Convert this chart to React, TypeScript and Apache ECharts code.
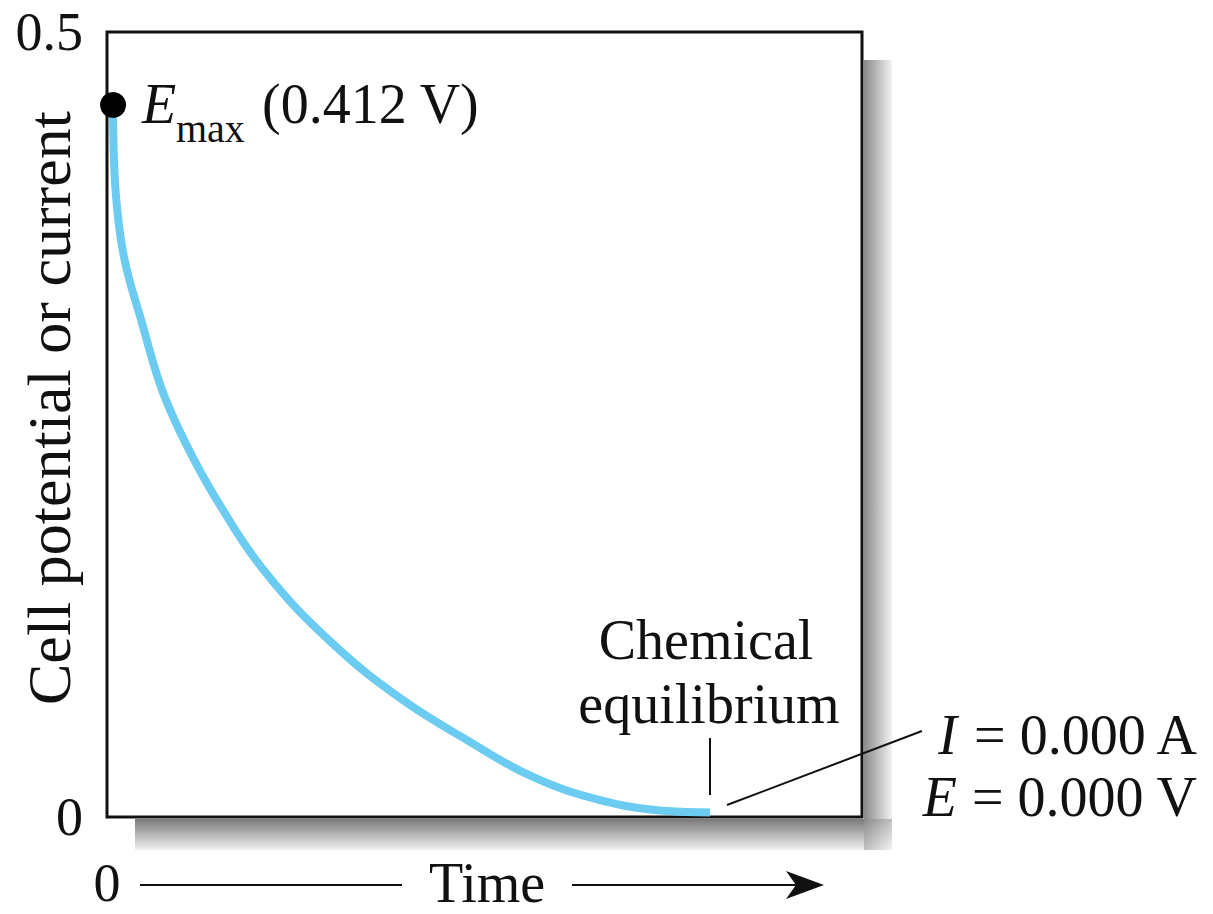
import React, { useEffect, useRef } from "react";
import * as echarts from "echarts";

// Curve: time (arbitrary units, 0–100 across the plot) vs. cell potential (V)
const timeValues = [0.8, 1.13, 2.25, 4.64, 7.29, 10.2, 14.31, 21.06, 29.8, 38.81, 47.68, 56.42, 65.3, 74.17, 79.87];
const potentialValues = [0.4535, 0.3994, 0.3567, 0.3146, 0.272, 0.2401, 0.2038, 0.1554, 0.1108, 0.0758, 0.049, 0.0255, 0.0108, 0.0038, 0.0029];
const emaxPoint = [0.8, 0.4535];
const yTickLabels = ["0", "0.5"];
const yAxisTitle = "Cell potential or current";
const xAxisTitle = "Time";
const xZeroLabel = "0";
const emaxText = ["E", "max", "(0.412 V)"];
const equilibriumText = ["Chemical", "equilibrium"];
const finalValues = ["{i|I} = 0.000 A", "{i|E} = 0.000 V"];

export default function App() {
  const ref = useRef<HTMLDivElement>(null);
  useEffect(() => {
    const chart = echarts.init(ref.current!, null, { renderer: "svg" });
    const serif = "'Liberation Serif', 'Times New Roman', serif";
    const ink = "#111";
    const txt = (x: number, y: number, text: string, size: number, extra: any = {}) => ({
      type: "text",
      z: 20,
      x,
      y,
      style: {
        text,
        fontFamily: serif,
        fontSize: size,
        fill: ink,
        align: "left",
        verticalAlign: "middle",
        ...extra,
      },
    });
    chart.setOption({
      animation: false,
      backgroundColor: "#fff",
      grid: {
        left: 107,
        top: 32,
        width: 755,
        height: 785,
        show: true,
        borderColor: ink,
        borderWidth: 3,
        backgroundColor: "#fff",
        z: 2,
      },
      xAxis: {
        type: "value",
        min: 0,
        max: 100,
        show: false,
      },
      yAxis: {
        type: "value",
        min: 0,
        max: 0.5,
        interval: 0.5,
        axisLine: { show: false },
        axisTick: { show: false },
        splitLine: { show: false },
        axisLabel: {
          fontSize: 54,
          fontFamily: serif,
          color: ink,
          margin: 24,
          formatter: (v: number) => yTickLabels[Math.round(v / 0.5)],
        },
      },
      series: [
        {
          type: "line",
          data: timeValues.map((t, i) => [t, potentialValues[i]]),
          smooth: 0.4,
          showSymbol: false,
          lineStyle: { color: "#6CCBF0", width: 8, cap: "butt" },
          z: 3,
        },
        {
          type: "scatter",
          data: [emaxPoint],
          symbolSize: 26,
          itemStyle: { color: "#000", opacity: 1 },
          z: 4,
        },
      ],
      graphic: [
        // drop shadow of the plot box
        {
          type: "rect",
          z: 1,
          shape: { x: 864, y: 60, width: 28, height: 760 },
          style: {
            fill: new echarts.graphic.LinearGradient(0, 0, 1, 0, [
              { offset: 0, color: "#8a8a8a" },
              { offset: 1, color: "#f2f2f2" },
            ]),
          },
        },
        {
          type: "rect",
          z: 1,
          shape: { x: 135, y: 819, width: 729, height: 31 },
          style: {
            fill: new echarts.graphic.LinearGradient(0, 0, 0, 1, [
              { offset: 0, color: "#7a7a7a" },
              { offset: 1, color: "#f2f2f2" },
            ]),
          },
        },
        {
          type: "rect",
          z: 1,
          shape: { x: 864, y: 819, width: 28, height: 31 },
          style: {
            fill: new echarts.graphic.LinearGradient(0, 0, 1, 1, [
              { offset: 0, color: "#8a8a8a" },
              { offset: 1, color: "#f4f4f4" },
            ]),
          },
        },
        // y axis title
        {
          type: "text",
          z: 20,
          x: 49,
          y: 408,
          rotation: Math.PI / 2,
          style: {
            text: yAxisTitle,
            fontFamily: serif,
            fontSize: 62,
            fill: ink,
            align: "center",
            verticalAlign: "middle",
          },
        },
        // E_max label
        txt(142, 104, emaxText[0], 56, { fontStyle: "italic" }),
        txt(176, 128, emaxText[1], 40),
        txt(262, 104, emaxText[2], 56),
        // chemical equilibrium
        txt(706, 640, equilibriumText[0], 56, { align: "center" }),
        txt(709, 704, equilibriumText[1], 56, { align: "center" }),
        {
          type: "line",
          z: 20,
          shape: { x1: 710, y1: 738, x2: 710, y2: 795 },
          style: { stroke: ink, lineWidth: 2 },
        },
        {
          type: "line",
          z: 20,
          shape: { x1: 727, y1: 805, x2: 922, y2: 731 },
          style: { stroke: ink, lineWidth: 2 },
        },
        // final values
        txt(1197, 735, finalValues[0], 56, {
          align: "right",
          rich: { i: { fontStyle: "italic", fontFamily: serif, fontSize: 56, fill: ink } },
        }),
        txt(1197, 797, finalValues[1], 56, {
          align: "right",
          rich: { i: { fontStyle: "italic", fontFamily: serif, fontSize: 56, fill: ink } },
        }),
        // time axis
        txt(107, 883, xZeroLabel, 54, { align: "center" }),
        {
          type: "line",
          z: 20,
          shape: { x1: 140, y1: 885, x2: 402, y2: 885 },
          style: { stroke: ink, lineWidth: 2 },
        },
        txt(487, 883, xAxisTitle, 56, { align: "center" }),
        {
          type: "line",
          z: 20,
          shape: { x1: 572, y1: 885, x2: 800, y2: 885 },
          style: { stroke: ink, lineWidth: 2 },
        },
        {
          type: "polygon",
          z: 20,
          shape: { points: [[824, 885], [786, 871], [796, 885], [786, 899]] },
          style: { fill: ink },
        },
      ],
    });
    return () => chart.dispose();
  }, []);
  return (
    <div
      ref={ref}
      style={{ position: "fixed", left: 0, top: 0, width: 1213, height: 914, background: "#fff" }}
    />
  );
}
